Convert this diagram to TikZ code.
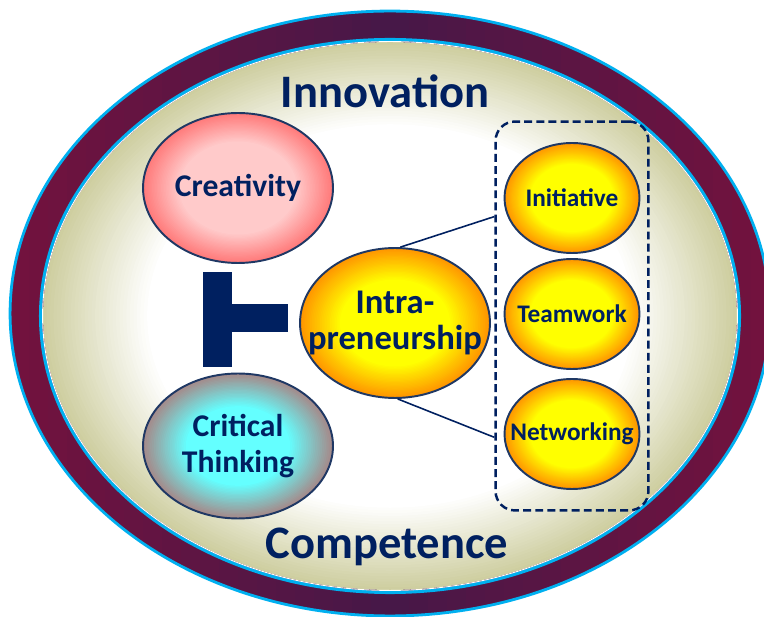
\documentclass[tikz,border=0pt]{standalone}
\usepackage{fontspec}
\setmainfont{Carlito}
\usetikzlibrary{shapes.geometric, calc, fit}

\definecolor{ink}{RGB}{0,32,96}
\definecolor{rim}{RGB}{31,56,100}
\definecolor{skyedge}{RGB}{0,176,240}
\definecolor{plumL}{RGB}{114,18,62}
\definecolor{plumM}{RGB}{70,24,72}
\definecolor{creamE}{RGB}{206,206,160}
\definecolor{pinkC}{RGB}{255,202,202}
\definecolor{pinkE}{RGB}{255,122,122}
\definecolor{cyanC}{RGB}{100,255,255}
\definecolor{cyanE}{RGB}{165,138,138}
\definecolor{sunC}{RGB}{255,255,0}
\definecolor{sunE}{RGB}{255,150,0}

\begin{document}
\begin{tikzpicture}[x=0.02cm, y=-0.02cm,
    % glow={edge colour}{centre colour}{radius where the centre colour starts}
    glow/.style n args={3}{path picture={
        \foreach \k in {0,...,24}{
            \pgfmathsetmacro\rf{1-(1-#3)*\k/24}
            \pgfmathtruncatemacro\mix{100*\k/24}
            \fill[#2!\mix!#1] let \p1=(path picture bounding box.north east),
                \p2=(path picture bounding box.center) in
                (\p2) ellipse [x radius={\rf*(\x1-\x2)}, y radius={\rf*(\y1-\y2)}];
        }}},
    bubble/.style={ellipse, draw=rim, line width=1.1pt, text=ink, align=center,
        inner xsep=-1cm, inner ysep=0pt},
    bigbubble/.style={bubble, minimum width=3.8cm, minimum height=3cm},
    smallbubble/.style={bubble, glow={sunE}{sunC}{0.62}, minimum width=2.7cm, minimum height=2.2cm,
        font=\bfseries\fontsize{14.4}{16}\selectfont},
    link/.style={ink, line width=0.9pt},
    groupbox/.style={draw=ink, line width=1.4pt, dash pattern=on 4.5pt off 2.4pt,
        rounded corners=11pt, inner xsep=0.16cm, inner ysep=0.41cm},
    title/.style={text=ink, anchor=base, font=\bfseries\fontsize{26.5}{30}\selectfont}]

    \useasboundingbox (0,0) rectangle (764,617);

    % outer ring, maroon at the sides and plum in the middle
    \begin{scope}
        \clip (390,313.5) ellipse [x radius=7.6cm, y radius=6.05cm];
        \foreach \i in {0,...,39}{
            \pgfmathtruncatemacro\mix{100*(1-abs(\i-19.5)/19.5)}
            \fill[plumM!\mix!plumL] ({10+\i*19},0) rectangle ({10+\i*19+19.6},620);
        }
    \end{scope}
    \draw[skyedge, line width=1.6pt] (390,313.5) ellipse [x radius=7.6cm, y radius=6.05cm];
    \draw[skyedge, line width=1.8pt] (390,316) ellipse [x radius=6.99cm, y radius=5.53cm];

    % cream field, white in the middle
    \foreach \k in {0,...,30}{
        \pgfmathsetmacro\rf{1-0.3*\k/30}
        \pgfmathtruncatemacro\mix{100*\k/30}
        \fill[white!\mix!creamE] (390,316) ellipse [x radius=\rf*6.94cm, y radius=\rf*5.48cm];
    }
    \draw[white, line width=0.5pt] (390,316) ellipse [x radius=6.95cm, y radius=5.49cm];

    \node[title] (innov) at (385,108) {Innovation};
    \node[title] (comp) at (387,559) {Competence};

    \node[bigbubble, glow={pinkE}{pinkC}{0.62}, font=\bfseries\fontsize{18}{20}\selectfont]
        (crea) at (238,188) {Creativity};
    \node[bigbubble, glow={cyanE}{cyanC}{0.55}, minimum height=2.9cm, font=\bfseries\fontsize{18}{20}\selectfont]
        (crit) at (238,446) {Critical\\Thinking};
    \node[bigbubble, glow={sunE}{sunC}{0.58}, font=\bfseries\fontsize{19.7}{21}\selectfont]
        (intra) at (395,323) {Intra-\\preneurship};

    % the T joining creativity and critical thinking
    \fill[ink] (203,272) rectangle (232,367);
    \fill[ink] (232,304) rectangle (288,332);

    \node[smallbubble] (init) at (572,198) {Initiative};
    \node[smallbubble] (team) at (572,314) {Teamwork};
    \node[smallbubble] (netw) at (572,434) {Networking};
    \node[groupbox, fit=(init)(netw)] (grp) {};

    \draw[link] (intra.86) -- ($(grp.north west)!0.246!(grp.south west)$);
    \draw[link] (intra.-88) -- ($(grp.north west)!0.81!(grp.south west)$);
\end{tikzpicture}
\end{document}
